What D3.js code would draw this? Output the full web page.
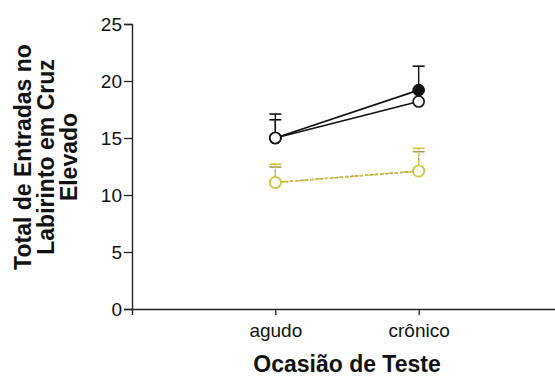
<!DOCTYPE html>
<html>
<head>
<meta charset="utf-8">
<script src="https://cdn.jsdelivr.net/npm/d3@7"></script>
<style>
  html, body { margin: 0; padding: 0; background: #fff; }
  svg { display: block; }
  text { font-family: "Liberation Sans", Arial, sans-serif; fill: #111; }
</style>
</head>
<body>
<svg id="chart" width="555" height="378"></svg>
<script>
// Test occasions
const occasions = ["agudo", "crônico"];
const yTicks = [0, 5, 10, 15, 20, 25];

// Group means and SEM per occasion
const filledMean = [15, 19.2];
const filledSem  = [2.1, 2.1];
const openMean   = [15, 18.2];
const openSem    = [1.6, 0.9];
const yellowAMean = [11.1, 12.1];
const yellowASem  = [1.6, 2.0];
const yellowBMean = [11.1, 12.1];
const yellowBSem  = [1.35, 1.7];

const svg = d3.select("#chart");

const x = d3.scaleLinear().domain([0, 3]).range([132, 562]);
const y = d3.scaleLinear().domain([0, 25]).range([309, 24]);
const xPos = i => x(i + 1);

// Axes
const yAxis = d3.axisLeft(y).tickValues(yTicks).tickSize(8).tickPadding(2);
const gy = svg.append("g").attr("transform", `translate(${x(0)},0)`).call(yAxis);
gy.select(".domain").attr("stroke", "#222").attr("stroke-width", 1.4);
gy.selectAll(".tick line").attr("stroke", "#222").attr("stroke-width", 1.3);
gy.selectAll(".tick text").attr("font-size", 19).attr("fill", "#111")
  .attr("font-family", "Liberation Sans, Arial, sans-serif");

const xAxis = d3.axisBottom(x).tickValues([1, 2])
  .tickFormat(d => occasions[d - 1]).tickSizeOuter(0).tickSize(6).tickPadding(9);
const gx = svg.append("g").attr("transform", `translate(0,${y(0)})`).call(xAxis);
gx.select(".domain").attr("stroke", "#222").attr("stroke-width", 1.4);
gx.selectAll(".tick line").attr("stroke", "#222").attr("stroke-width", 1.3);
gx.selectAll(".tick text").attr("font-size", 19).attr("fill", "#111")
  .attr("font-family", "Liberation Sans, Arial, sans-serif");

// Axis titles
const yTitle = svg.append("text")
  .attr("transform", "translate(0,157) rotate(-90)")
  .attr("text-anchor", "middle")
  .attr("font-size", 23).attr("font-weight", "bold");
["Total de Entradas no", "Labirinto em Cruz", "Elevado"].forEach((t, i) => {
  yTitle.append("tspan").attr("x", 0).attr("y", 31 + i * 23).text(t);
});

svg.append("text")
  .attr("x", 347).attr("y", 372)
  .attr("text-anchor", "middle")
  .attr("font-size", 23).attr("font-weight", "bold")
  .text("Ocasião de Teste");

// Draws one group: error bars (upper only), connecting line, markers
function drawSeries(means, sems, opts) {
  const g = svg.append("g");
  const capW = 6;
  means.forEach((m, i) => {
    const cx = xPos(i);
    g.append("line")
      .attr("x1", cx).attr("x2", cx)
      .attr("y1", y(m)).attr("y2", y(m + sems[i]))
      .attr("stroke", opts.color).attr("stroke-width", 1.4)
      .attr("stroke-dasharray", opts.dash || null);
    g.append("line")
      .attr("x1", cx - capW).attr("x2", cx + capW)
      .attr("y1", y(m + sems[i])).attr("y2", y(m + sems[i]))
      .attr("stroke", opts.color).attr("stroke-width", 1.6);
  });
  const line = d3.line().x((d, i) => xPos(i)).y(d => y(d));
  g.append("path").datum(means)
    .attr("d", line).attr("fill", "none")
    .attr("stroke", opts.color).attr("stroke-width", 1.6)
    .attr("stroke-dasharray", opts.dash || null);
  g.selectAll("circle").data(means).join("circle")
    .attr("cx", (d, i) => xPos(i)).attr("cy", d => y(d))
    .attr("r", 5.5)
    .attr("fill", opts.fill)
    .attr("stroke", opts.color).attr("stroke-width", 1.6);
}

drawSeries(yellowBMean, yellowBSem, { color: "#a89c5a", fill: "#fff", dash: "3,2" });
drawSeries(yellowAMean, yellowASem, { color: "#d8c63a", fill: "#fff", dash: "4,3" });
drawSeries(openMean, openSem, { color: "#111", fill: "#fff" });
drawSeries(filledMean, filledSem, { color: "#111", fill: "#111" });
// Open marker at the acute occasion sits on top of the filled one
svg.append("circle")
  .attr("cx", xPos(0)).attr("cy", y(openMean[0])).attr("r", 5.5)
  .attr("fill", "#fff").attr("stroke", "#111").attr("stroke-width", 1.6);
</script>
</body>
</html>
